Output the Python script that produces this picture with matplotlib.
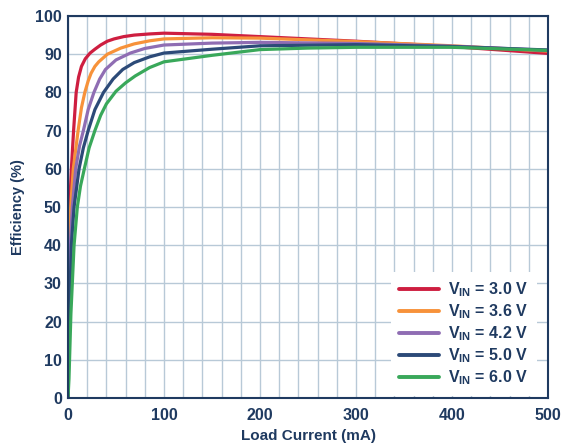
import matplotlib
matplotlib.use("Agg")
import matplotlib.pyplot as plt
import numpy as np

plt.rcParams['font.family'] = ['Liberation Sans', 'DejaVu Sans']
plt.rcParams['mathtext.fontset'] = 'custom'
plt.rcParams['mathtext.rm'] = 'Liberation Sans:bold'
plt.rcParams['mathtext.bf'] = 'Liberation Sans:bold'
plt.rcParams['mathtext.it'] = 'Liberation Sans:bold'

# Load current (mA) / efficiency (%)
x_30 = [0, 0.3, 0.7, 1.7, 3.5, 5.8, 8.5, 11, 14, 18, 23, 28, 34, 41, 48, 58, 69, 85, 100, 150, 200, 300, 400, 500]
eff_30 = [0, 25, 40, 50, 60, 70, 80, 84, 86.8, 88.8, 90.3, 91.3, 92.4, 93.4, 94, 94.6, 95, 95.3, 95.5, 95.2, 94.6, 93.4, 92.0, 90.2]

x_36 = [0, 0.5, 1.4, 2.8, 5.5, 10.5, 14, 17.5, 21, 24, 28, 32, 41, 55, 69, 85, 100, 150, 200, 300, 400, 500]
eff_36 = [0, 25, 40, 50, 60, 70, 76, 80, 83, 85, 86.8, 88, 90, 91.6, 92.7, 93.5, 94.0, 94.3, 94.2, 93.3, 92.2, 90.8]

x_42 = [0, 1, 2.4, 4.5, 8, 12, 16, 21, 27, 33, 39, 50, 65, 80, 100, 150, 200, 300, 400, 500]
eff_42 = [0, 25, 40, 50, 60, 66, 70, 75.5, 80, 83.5, 86, 88.5, 90.3, 91.5, 92.4, 92.9, 93.1, 92.8, 92.1, 91.0]

x_50 = [0, 1.2, 3.5, 6.3, 11.5, 16, 21, 28, 37, 47, 57, 69, 85, 100, 150, 200, 300, 400, 500]
eff_50 = [0, 20, 40, 50, 60, 65.5, 70, 75.5, 80, 83.5, 86, 87.8, 89.3, 90.3, 91.3, 92.2, 92.5, 92.0, 91.1]

x_60 = [0, 1, 3, 6.3, 9.7, 13, 17, 22, 28, 34, 40, 50, 60, 70, 85, 100, 150, 200, 250, 300, 400, 500]
eff_60 = [0, 5, 22, 40, 50, 55.5, 60, 65.5, 70, 74, 77, 80.3, 82.5, 84.3, 86.5, 88.0, 89.7, 91.2, 91.6, 91.8, 91.8, 91.0]

series = [
    (x_30, eff_30, '3.0', '#CE1E40'),
    (x_36, eff_36, '3.6', '#F7923A'),
    (x_42, eff_42, '4.2', '#8F6DB3'),
    (x_50, eff_50, '5.0', '#2C4A78'),
    (x_60, eff_60, '6.0', '#39A85A'),
]

navy = '#1F3A60'
grid_c = '#B8C9D7'

fig = plt.figure(figsize=(5.64, 4.44), dpi=100)
ax = fig.add_axes([0.1206, 0.1036, 0.851, 0.8604])

for x, y, v, c in series:
    ax.plot(x, y, color=c, lw=2.3, solid_joinstyle='round', solid_capstyle='round',
            label=r'$\mathbf{V}_{\mathbf{IN}}$ = ' + v + ' V')

ax.set_xlim(0, 500)
ax.set_ylim(0, 100)
ax.set_xticks(np.arange(0, 501, 100))
ax.set_xticks(np.arange(0, 501, 20), minor=True)
ax.set_yticks(np.arange(0, 101, 10))
ax.grid(which='both', axis='x', color=grid_c, lw=1.0)
ax.grid(which='major', axis='y', color=grid_c, lw=1.0)
ax.set_axisbelow(True)
ax.tick_params(which='both', length=0, labelcolor=navy)
ax.tick_params(axis='x', pad=7.5)
ax.tick_params(axis='y', pad=4.5)
for lab in ax.get_xticklabels() + ax.get_yticklabels():
    lab.set_fontweight('bold')
    lab.set_fontsize(11.5)
for s in ax.spines.values():
    s.set_color(navy)
    s.set_linewidth(1.5)

ax.set_xlabel('Load Current (mA)', fontsize=11, fontweight='bold', color=navy, labelpad=4)
ax.set_ylabel('Efficiency (%)', fontsize=10.5, fontweight='bold', color=navy, labelpad=7)

leg = ax.legend(loc='lower right', bbox_to_anchor=(0.977, 0.006), frameon=True,
                fancybox=False, framealpha=1, facecolor='white', edgecolor='none',
                fontsize=11.5, handlelength=2.5, handletextpad=0.55,
                labelspacing=0.2, borderpad=0.55, borderaxespad=0)
for t in leg.get_texts():
    t.set_color(navy)
    t.set_fontweight('bold')
for l in leg.get_lines():
    l.set_linewidth(2.8)

fig.savefig('out.png', dpi=100)
